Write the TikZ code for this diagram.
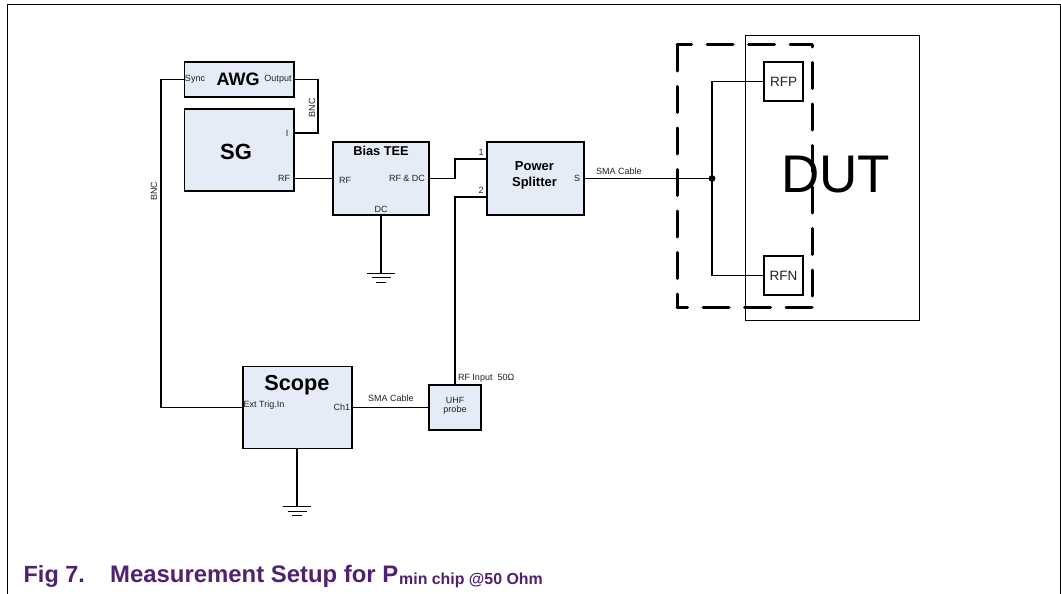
\documentclass[tikz,border=0pt]{standalone}
\usepackage{fontspec}
\setmainfont{Liberation Sans}
\definecolor{boxfill}{HTML}{E6ECF7}
\definecolor{capcol}{HTML}{4F2170}
\definecolor{lab}{HTML}{222222}
\newcommand{\fs}[1]{\fontsize{#1}{#1}\selectfont}
\tikzset{
  block/.style={draw=black,fill=boxfill,line width=1.3pt,inner sep=0pt,outer sep=0pt},
  wire/.style={draw=black,line width=1.3pt},
  thinwire/.style={draw=black,line width=1.1pt},
  pin/.style={inner sep=0pt,outer sep=0pt,text=lab,font=\fs{9}},
  title/.style={inner sep=0pt,outer sep=0pt,font=\bfseries\fs{13}},
  gnd/.style={draw=black,line width=1.3pt},
  pad/.style={draw=black,fill=white,line width=1.1pt,inner sep=0pt,outer sep=0pt,minimum width=39pt,minimum height=39pt,text=lab,font=\fs{13.5}},
  encl/.style={line width=3pt,line cap=round},
}
\begin{document}
\begin{tikzpicture}[x=1pt,y=-1pt]
\useasboundingbox (0,0) rectangle (1061,594);
\fill[white] (0,0) rectangle (1061,594);
% outer frame
\coordinate (fbl) at (7,594);
\coordinate (ftl) at (7,5);
\coordinate (ftr) at (1060,5);
\coordinate (fbr) at (1060,594);
\draw[line width=1pt] (fbl) -- (ftl) -- (ftr) -- (fbr);
% blocks
\node[block,minimum width=109.5pt,minimum height=35pt] (awg) at (239.25,79.5) {};
\node[block,minimum width=109.5pt,minimum height=82pt] (sg) at (239.25,150) {};
\node[block,minimum width=96pt,minimum height=73pt] (tee) at (381,178.5) {};
\node[block,minimum width=97pt,minimum height=73pt] (split) at (535.5,178.5) {};
\node[block,minimum width=109pt,minimum height=82pt] (scope) at (297.5,407.5) {};
\node[block,minimum width=52pt,minimum height=45pt] (uhf) at (455,407.5) {};
% DUT
\node[draw=black,line width=1pt,inner sep=0pt,outer sep=0pt,minimum width=174pt,minimum height=284pt] (dut) at (832,178) {};
\node[inner sep=0pt,font=\fs{53}] (duttext) at (835.5,175) {DUT};
\node[pad] (rfp) at (783.5,81.5) {RFP};
\node[pad] (rfn) at (783.5,275.5) {RFN};
% block titles
\node[title,font=\bfseries\fs{18}] (awgt) at (238,79) {AWG};
\node[title,font=\bfseries\fs{22}] (sgt) at (236,152) {SG};
\node[title,font=\bfseries\fs{12.8}] (teet) at (381,151) {Bias TEE};
\node[title] (pw) at (534.5,166) {Power};
\node[title] (spl) at (534.5,183) {Splitter};
\node[title,font=\bfseries\fs{21.7}] (scopet) at (297,385) {Scope};
% pin labels
\node[pin] (psync) at (195,79) {Sync};
\node[pin] (pout) at (278,79) {Output};
\node[pin] (pi) at (287,133) {I};
\node[pin] (prf) at (284,178) {RF};
\node[pin] (prf2) at (345,180) {RF};
\node[pin] (prfdc) at (407,178) {RF \& DC};
\node[pin] (pdc) at (381,209) {DC};
\node[pin] (p1) at (481,152) {1};
\node[pin] (p2) at (481,190) {2};
\node[pin] (ps) at (577,178) {S};
\node[pin] (lsma) at (619,171) {SMA Cable};
\node[pin] (lsma2) at (391,398) {SMA Cable};
\node[pin] (lbnc) at (312,108) [rotate=90] {BNC};
\node[pin] (lbnc2) at (154,191) [rotate=90] {BNC};
\node[pin] (pext) at (264,405) {Ext Trig.In};
\node[pin] (pch) at (342,407.5) {Ch1};
\node[pin,anchor=west] (prfin) at (458,378) {RF Input\ \ 50Ω};
\node[pin] (uhf1) at (455,400) {UHF};
\node[pin] (uhf2) at (455,410) {probe};
% named routing coordinates
\coordinate (syncx) at (161,79.5);
\coordinate (outx) at (318,79.5);
\coordinate (sgi) at (294,133);
\coordinate (sgi2) at (294,150);
\coordinate (sgrf) at (294,178.5);
\coordinate (split1) at (487,159);
\coordinate (split2) at (487,197);
\coordinate (junc) at (712,178.5);
\coordinate (g1) at (381,273.3);
\coordinate (g2) at (297,506.7);
% connectors
\draw[wire] (awg.west) -- (syncx) -- (syncx |- scope.west) -- (scope.west);
\draw[wire] (awg.east) -- (outx) -- (outx |- sgi) -- (sgi);
\draw[wire,line width=1.6pt] (sgi) -- (sgi2);
\draw[wire] (sgrf) -- (tee.west);
\draw[wire] (tee.east) -- (455,178.5) -- (455,159) -- (split1);
\draw[wire] (split2) -- (455,197) -- (uhf.north);
\draw[wire] (tee.south) -- (g1);
\draw[wire] (scope.south -| g2) -- (g2);
\draw[wire] (scope.east) -- (uhf.west);
\draw[thinwire] (split.east) -- (junc);
\draw[thinwire] (rfp.west) -- (rfp.west -| junc) -- (rfn.west -| junc) -- (rfn.west);
\fill (junc) circle (3.4pt);
% grounds
\draw[gnd] ([xshift=-14pt]g1) -- ([xshift=14pt]g1);
\draw[gnd] ([xshift=-9.5pt,yshift=-4.5pt]g1) -- ([xshift=9.5pt,yshift=-4.5pt]g1);
\draw[gnd] ([xshift=-5pt,yshift=-9pt]g1) -- ([xshift=5pt,yshift=-9pt]g1);
\draw[gnd] ([xshift=-14pt]g2) -- ([xshift=14pt]g2);
\draw[gnd] ([xshift=-9.5pt,yshift=-4.5pt]g2) -- ([xshift=9.5pt,yshift=-4.5pt]g2);
\draw[gnd] ([xshift=-5pt,yshift=-9pt]g2) -- ([xshift=5pt,yshift=-9pt]g2);
% dashed enclosure, one stroke per side
\coordinate (d1) at (812,307);
\coordinate (d2) at (677,307);
\coordinate (d3) at (677,45);
\coordinate (d4) at (812,45);
\draw[encl,dash pattern=on 26pt off 15.5pt] (d1) -- (d2);
\draw[encl,dash pattern=on 26pt off 15.5pt,dash phase=4pt] (d4) -- (d3);
\draw[encl,dash pattern=on 26pt off 15.5pt] (d3) -- (d2);
\draw[encl,dash pattern=on 26pt off 15.5pt,dash phase=24pt] (d4) -- (d1);
% caption
\node[anchor=base west,inner sep=0pt,text=capcol,font=\bfseries\fs{23.4}] (cap1) at (23.5,582) {Fig 7.};
\node[anchor=base west,inner sep=0pt,text=capcol,font=\bfseries\fs{23.9}] (cap2) at (110,582) {Measurement Setup for P};
\node[anchor=base west,inner sep=0pt,text=capcol,font=\bfseries\fs{15.9}] (cap3) at (399,584.5) {min chip @50 Ohm};
\end{tikzpicture}
\end{document}
